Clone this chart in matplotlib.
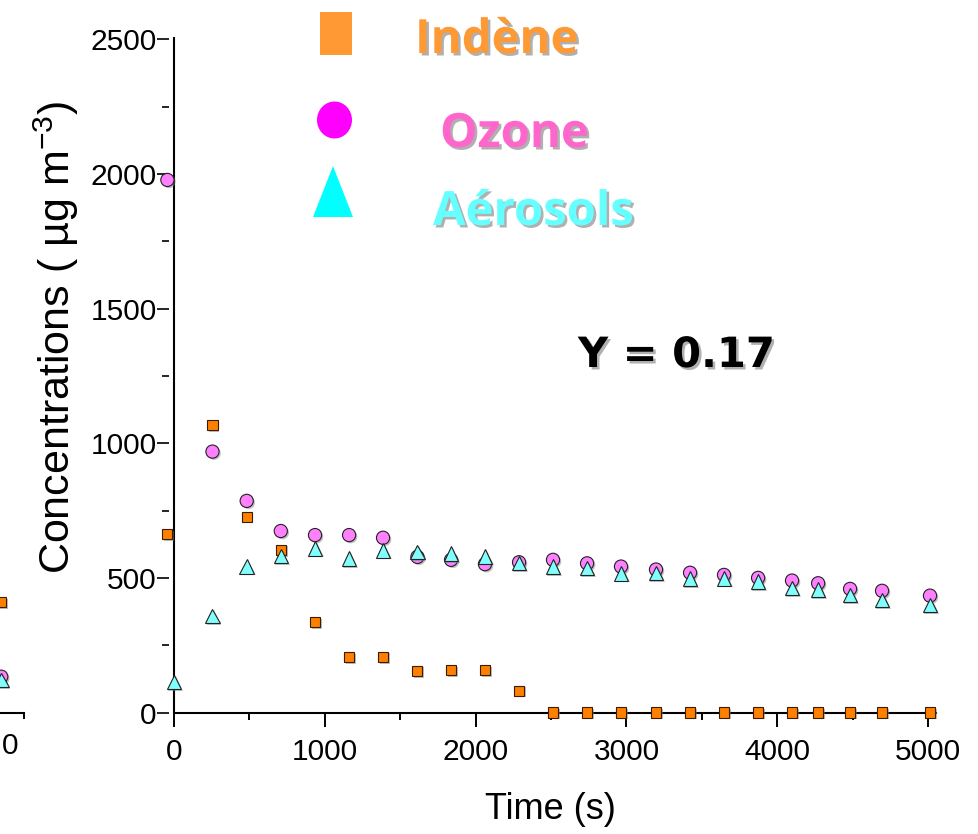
import matplotlib
matplotlib.use('Agg')
import matplotlib.pyplot as plt
import matplotlib.patheffects as pe
from matplotlib.patches import Rectangle, Ellipse, Polygon
from matplotlib.transforms import ScaledTranslation

plt.rcParams['font.family'] = ['Liberation Sans', 'DejaVu Sans']
plt.rcParams['mathtext.fontset'] = 'custom'
plt.rcParams['mathtext.rm'] = 'Liberation Sans'
plt.rcParams['mathtext.it'] = 'Liberation Sans:italic'

# ---------------- data (right panel) ----------------
time_indene = [-44, 255, 482, 708, 935, 1161, 1386, 1614, 1837, 2062, 2288, 2513,
               2739, 2964, 3196, 3422, 3647, 3873, 4098, 4271, 4483, 4695, 5013]
indene = [662, 1068, 727, 604, 335, 205, 207, 155, 158, 158, 81, 0,
          0, 0, 0, 0, 0, 0, 0, 0, 0, 0, 0]
time_ozone = [-44, 255, 482, 708, 935, 1161, 1386, 1614, 1837, 2062, 2288, 2513,
              2739, 2964, 3196, 3422, 3647, 3873, 4098, 4271, 4483, 4695, 5013]
ozone = [1978, 969, 786, 674, 659, 659, 649, 578, 567, 551, 558, 567,
         554, 542, 531, 519, 511, 500, 490, 480, 459, 452, 434]
time_aerosols = [0, 255, 482, 708, 935, 1161, 1386, 1614, 1837, 2062, 2288, 2513,
                 2739, 2964, 3196, 3422, 3647, 3873, 4098, 4271, 4483, 4695, 5013]
aerosols = [114, 359, 543, 581, 610, 571, 602, 596, 590, 580, 555, 542,
            536, 517, 518, 497, 498, 486, 463, 456, 436, 418, 399]

# partially visible left panel (cropped)
left_time = [4909]
left_indene = [410]
left_ozone = [133]
left_aerosols = [121]

x_major = [0, 1000, 2000, 3000, 4000, 5000]
x_minor = [500, 1500, 2500, 3500, 4500]
y_major = [0, 500, 1000, 1500, 2000, 2500]
y_minor = [250, 750, 1250, 1750, 2250]

legend_labels = ['Indène', 'Ozone', 'Aérosols']
yield_text = 'Y = 0.17'

W, H = 979, 834
fig = plt.figure(figsize=(W / 100, H / 100), dpi=100)

sq_face, sq_edge = '#FF8000', '#3a1d00'
ci_face = '#FF80FF'
tr_face = '#80FFFF'
shadow = [pe.SimplePatchShadow(offset=(1.2, -1.2), shadow_rgbFace='#808080', alpha=0.5), pe.Normal()]

def draw_series(ax, t_i, v_i, t_o, v_o, t_a, v_a):
    ax.plot(t_i, v_i, ls='none', marker='s', ms=7.3, mfc=sq_face, mec=sq_edge, mew=0.8,
            clip_on=False, zorder=3, path_effects=shadow)
    ax.plot(t_o, v_o, ls='none', marker='o', ms=9.5, mfc=ci_face, mec='#222222', mew=0.8,
            clip_on=False, zorder=4, path_effects=shadow)
    ax.plot(t_a, v_a, ls='none', marker='^', ms=10.5, mfc=tr_face, mec='#222222', mew=0.8,
            clip_on=False, zorder=5, path_effects=shadow)

# ---------------- main axes ----------------
xlo, xhi = -150, 5060
ylo, yhi = 0, 2510
ax = fig.add_axes([151.4 / W, (H - 712.5) / H, 785.7 / W, 675.8 / H])
ax.set_xlim(xlo, xhi)
ax.set_ylim(ylo, yhi)
draw_series(ax, time_indene, indene, time_ozone, ozone, time_aerosols, aerosols)

for s in ['top', 'right']:
    ax.spines[s].set_visible(False)
ax.spines['bottom'].set_bounds(0, 5053)
ax.spines['bottom'].set_linewidth(1.5)
ax.spines['left'].set_position(('data', -33))
ax.spines['left'].set_visible(False)
ax.axvline(0, ymax=(2500 - ylo) / (yhi - ylo) + 0.004, color='k', lw=1.5, zorder=2)

ax.set_xticks(x_major)
ax.set_xticks(x_minor, minor=True)
ax.set_yticks(y_major)
ax.set_yticks(y_minor, minor=True)
ax.tick_params(axis='x', which='major', length=10, width=1.4, pad=8, labelsize=21.5)
ax.tick_params(axis='x', which='minor', length=5, width=1.4)
ax.tick_params(axis='y', which='major', length=8.5, width=1.2, pad=0.5, labelsize=21.5)
ax.tick_params(axis='y', which='minor', length=5, width=1.2)

ax.set_xlabel('Time (s)', fontsize=26)
ax.xaxis.set_label_coords((550 - 151.4) / 785.7, -(792 - 712.5) / 675.8)
ax.set_ylabel('Concentrations ( µg m$^{-3}$)', fontsize=31)
ax.yaxis.label.set_va('center')
ax.yaxis.set_label_coords((56 - 151.4) / 785.7, (712.5 - 337) / 675.8)

# ---------------- left, cropped panel ----------------
axl = fig.add_axes([(24 - 785.7) / W, (H - 712.5) / H, 785.7 / W, 675.8 / H])
axl.set_xlim(xlo, xhi)
axl.set_ylim(ylo, yhi)
draw_series(axl, left_time, left_indene, left_time, left_ozone, left_time, left_aerosols)
for s in ['top', 'right', 'left']:
    axl.spines[s].set_visible(False)
axl.spines['bottom'].set_linewidth(1.5)
axl.set_yticks([])
axl.set_xticks([xhi])
axl.set_xticklabels(['0'])
axl.tick_params(axis='x', length=4, width=1.4, pad=10, labelsize=21.5)
for lab in axl.get_xticklabels():
    lab.set_transform(lab.get_transform() + ScaledTranslation(-0.14, 0, fig.dpi_scale_trans))

# ---------------- legend & annotation (figure pixel overlay) ----------------
ov = fig.add_axes([0, 0, 1, 1], zorder=10)
ov.set_xlim(0, W)
ov.set_ylim(H, 0)
ov.axis('off')
ov.add_patch(Rectangle((320, 12), 32, 43, color='#FF9933', lw=0))
ov.add_patch(Ellipse((334.5, 120), 35, 37, color='#FF00FF', lw=0))
ov.add_patch(Polygon([(313, 217), (353, 217), (333, 166)], closed=True, color='#00FFFF', lw=0))

txt_shadow = [pe.SimplePatchShadow(offset=(1.8, -1.8), shadow_rgbFace='#A8A8A8', alpha=0.9), pe.Normal()]
leg_colors = ['#FF9933', '#FF66CC', '#66FFFF']
leg_pos = [(415, 53), (440, 147), (433, 225)]
for lab, col, (px, py) in zip(legend_labels, leg_colors, leg_pos):
    ov.text(px, py, lab, ha='left', va='baseline', fontsize=34, fontweight='bold',
            family='Open Sans', color=col, path_effects=txt_shadow)

ov.text(578, 367, yield_text, ha='left', va='baseline', fontsize=30, fontweight='bold',
        family='DejaVu Sans', color='black', path_effects=txt_shadow)

fig.savefig('out.png', dpi=100)
